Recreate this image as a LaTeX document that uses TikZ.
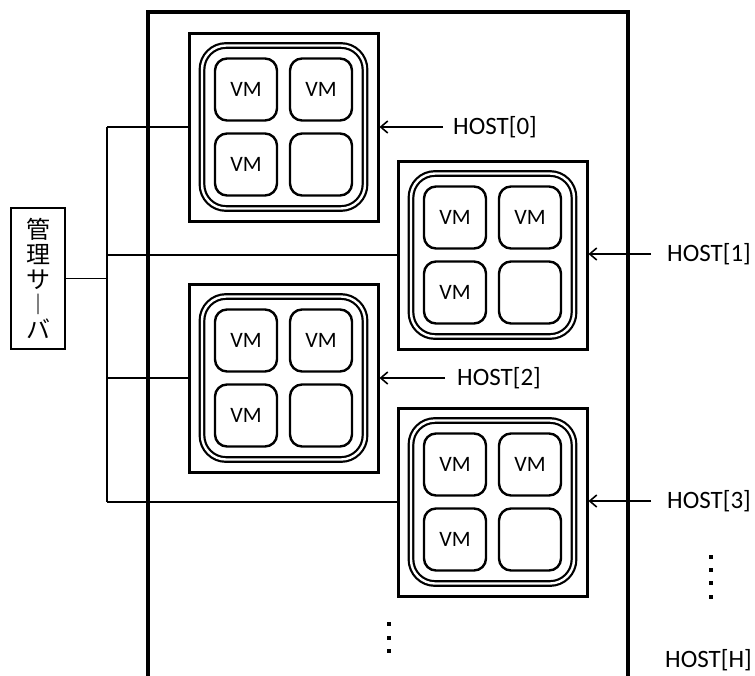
\documentclass[tikz,border=0pt]{standalone}
\usepackage{fontspec}
\setmainfont{Carlito}
\newfontfamily\cjk{Noto Sans CJK JP}
\usetikzlibrary{arrows.meta}
\tikzset{
 frame/.style={line width=3.2pt},
 hostbox/.style={draw, line width=3pt, minimum width=189pt, minimum height=188pt, inner sep=0pt, anchor=north west},
 ringbox/.style={draw, line width=2.2pt, double, double distance=2.4pt, rounded corners=24pt, minimum width=163pt, minimum height=163pt, inner sep=0pt},
 vmbox/.style={draw, line width=2.4pt, rounded corners=12pt, minimum width=62pt, minimum height=62pt, inner sep=0pt, font=\fontsize{22}{24}\selectfont},
 lbl/.style={font=\fontsize{25}{30}\selectfont, anchor=west, inner sep=0pt},
 srvbox/.style={draw, line width=1.8pt, minimum width=54pt, minimum height=141pt, inner sep=0pt, align=center, font=\cjk\fontsize{24}{25}\selectfont},
 bus/.style={line width=1.8pt},
 ptr/.style={line width=1.6pt, -{Straight Barb[length=7pt,width=12pt,line width=1.6pt]}},
 dotsq/.style={fill=black, minimum size=4pt, inner sep=0pt},
}
\newcommand{\hostunit}[3]{%
 \node[hostbox] (#1) at (#2,#3) {};
 \node[ringbox] (#1r) at (#1.center) {};
 \node[vmbox] (#1a) at ([shift={(-37.5,-37.5)}]#1.center) {VM};
 \node[vmbox] (#1b) at ([shift={(37.5,-37.5)}]#1.center) {VM};
 \node[vmbox] (#1c) at ([shift={(-37.5,37.5)}]#1.center) {VM};
 \node[vmbox] (#1d) at ([shift={(37.5,37.5)}]#1.center) {};
}
\begin{document}
\begin{tikzpicture}[x=1pt,y=-1pt]
\useasboundingbox (0,0) rectangle (755,675);
% outer frame
\coordinate (fbl) at (148,677);
\coordinate (ftl) at (148,12);
\coordinate (ftr) at (628,12);
\coordinate (fbr) at (628,677);
\draw[frame] (fbl) -- (ftl) -- (ftr) -- (fbr);
% hosts
\hostunit{h0}{187.5}{31.5}
\hostunit{h1}{396.5}{159.5}
\hostunit{h2}{187.5}{282.5}
\hostunit{h3}{396.5}{406.5}
% management server
\node[srvbox] (srv) at (38,278.5) {管\\理\\サ\\︱\\バ};
% bus
\coordinate (bx) at (107,0);
\coordinate (bt) at (h0.west -| bx);
\coordinate (bb) at (h3.west -| bx);
\draw[bus] (bt) -- (bb);
\draw[bus] (srv.east) -- (srv.east -| bx);
\draw[bus] (bt) -- (h0.west);
\draw[bus] (h1.west -| bx) -- (h1.west);
\draw[bus] (h2.west -| bx) -- (h2.west);
\draw[bus] (bb) -- (h3.west);
% labels
\node[lbl] (l0) at (453,127) {HOST[0]};
\node[lbl] (l1) at (667,254) {HOST[1]};
\node[lbl] (l2) at (457,378) {HOST[2]};
\node[lbl] (l3) at (667,501) {HOST[3]};
\node[lbl] (lH) at (665,660) {HOST[H]};
\draw[ptr, shorten <=10pt] (l0.west) -- (l0.west -| h0.east);
\draw[ptr, shorten <=16pt] (l1.west) -- (l1.west -| h1.east);
\draw[ptr, shorten <=12pt] (l2.west) -- (l2.west -| h2.east);
\draw[ptr, shorten <=16pt] (l3.west) -- (l3.west -| h3.east);
% dots
\node[dotsq] (d1) at (711,557) {};
\node[dotsq] (d2) at (711,570) {};
\node[dotsq] (d3) at (711,583) {};
\node[dotsq] (d4) at (711,597) {};
\node[dotsq] (m1) at (389,624) {};
\node[dotsq] (m2) at (389,638) {};
\node[dotsq] (m3) at (389,651) {};
\end{tikzpicture}
\end{document}
